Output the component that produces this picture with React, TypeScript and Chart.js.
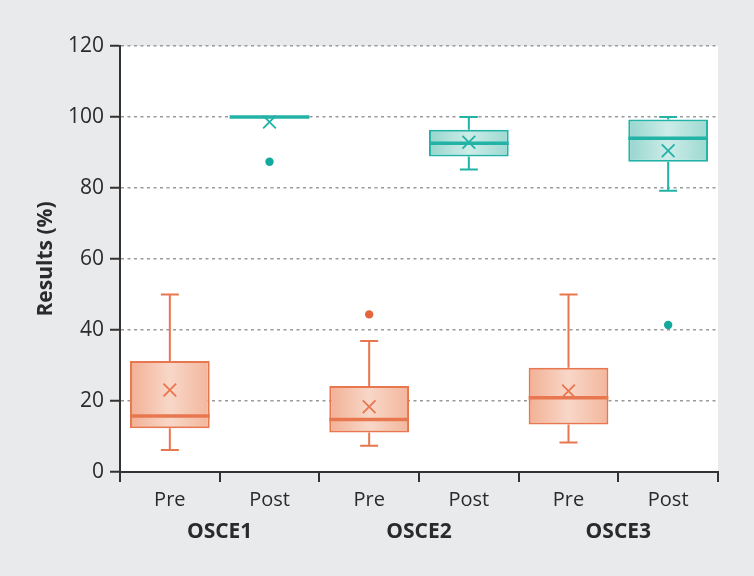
import React, { useEffect, useRef } from "react";
import { Chart, registerables } from "chart.js";

Chart.register(...registerables);

const categories = ["Pre", "Post", "Pre", "Post", "Pre", "Post"];
const groups = ["OSCE1", "OSCE2", "OSCE3"];
const whiskerMin = [6.2, 100, 7.4, 85.2, 8.3, 79.2];
const q1 = [12.3, 100, 11.1, 88.9, 13.4, 87.4];
const median = [15.8, 100, 14.8, 92.6, 20.9, 94.0];
const q3 = [31.3, 100, 24.2, 96.4, 29.4, 99.3];
const whiskerMax = [50, 100, 36.9, 100, 50, 100];
const mean = [23.1, 98.6, 18.4, 92.9, 22.8, 90.5];
const outliers = [null, 87.4, 44.4, null, null, 41.4];
const yTicks = [0, 20, 40, 60, 80, 100, 120];

const ORANGE = "#e8774f";
const TEAL = "#22b2a6";
const FONT = "'Open Sans', 'Noto Sans', sans-serif";
const TEXT = "#2a2a2a";

const isPre = (i: number) => i % 2 === 0;
const strokeFor = (i: number) => (isPre(i) ? ORANGE : TEAL);

const bgPlugin = {
  id: "plotBg",
  beforeDraw(chart: any) {
    const { ctx, chartArea } = chart;
    if (!chartArea) return;
    ctx.save();
    ctx.fillStyle = "#ffffff";
    ctx.fillRect(chartArea.left, chartArea.top, chartArea.right - chartArea.left, chartArea.bottom - chartArea.top);
    ctx.restore();
  },
};

const boxPlugin = {
  id: "boxParts",
  afterDatasetsDraw(chart: any) {
    const { ctx } = chart;
    const x = chart.scales.x;
    const y = chart.scales.y;
    const step = x.getPixelForValue(1) - x.getPixelForValue(0);
    const boxHalf = step * 0.4;
    const capHalf = 9;
    ctx.save();
    for (let i = 0; i < categories.length; i++) {
      const cx = x.getPixelForValue(i);
      ctx.strokeStyle = strokeFor(i);
      ctx.lineWidth = 2;
      ctx.beginPath();
      ctx.moveTo(cx, y.getPixelForValue(q3[i]));
      ctx.lineTo(cx, y.getPixelForValue(whiskerMax[i]));
      ctx.moveTo(cx, y.getPixelForValue(q1[i]));
      ctx.lineTo(cx, y.getPixelForValue(whiskerMin[i]));
      ctx.moveTo(cx - capHalf, y.getPixelForValue(whiskerMax[i]));
      ctx.lineTo(cx + capHalf, y.getPixelForValue(whiskerMax[i]));
      ctx.moveTo(cx - capHalf, y.getPixelForValue(whiskerMin[i]));
      ctx.lineTo(cx + capHalf, y.getPixelForValue(whiskerMin[i]));
      ctx.stroke();
      ctx.lineWidth = 3.5;
      ctx.beginPath();
      ctx.moveTo(cx - boxHalf, y.getPixelForValue(median[i]));
      ctx.lineTo(cx + boxHalf, y.getPixelForValue(median[i]));
      ctx.stroke();
    }
    ctx.restore();
  },
};

function boxFill(c: any) {
  const chart = c.chart;
  const i = c.dataIndex ?? 0;
  const pre = isPre(i);
  const fallback = pre ? "#f5c3ad" : "#b3e2dc";
  if (!chart.chartArea || !chart.scales || !chart.scales.x) return fallback;
  const x = chart.scales.x;
  const step = x.getPixelForValue(1) - x.getPixelForValue(0);
  const cx = x.getPixelForValue(i);
  const half = step * 0.4;
  if (!isFinite(cx) || !isFinite(half) || half <= 0) return fallback;
  const g = chart.ctx.createLinearGradient(cx - half, 0, cx + half, 0);
  if (pre) {
    g.addColorStop(0, "#f2b094");
    g.addColorStop(0.5, "#f8d7c8");
    g.addColorStop(1, "#f3b69c");
  } else {
    g.addColorStop(0, "#96d6ce");
    g.addColorStop(0.5, "#cdece8");
    g.addColorStop(1, "#9cd9d1");
  }
  return g;
}

export default function App() {
  const ref = useRef<HTMLCanvasElement | null>(null);

  useEffect(() => {
    if (!ref.current) return;
    const chart = new Chart(ref.current, {
      type: "bar",
      data: {
        labels: categories,
        datasets: [
          {
            type: "bar",
            data: q1.map((v, i) => [v, q3[i]]) as any,
            backgroundColor: boxFill as any,
            borderColor: categories.map((_, i) => strokeFor(i)),
            borderWidth: 2,
            borderSkipped: false,
            barPercentage: 0.8,
            categoryPercentage: 1.0,
            order: 3,
          },
          {
            type: "line",
            data: mean,
            showLine: false,
            pointStyle: "crossRot",
            pointRadius: 9,
            pointBorderWidth: 1.8,
            pointBorderColor: categories.map((_, i) => strokeFor(i)),
            pointBackgroundColor: "rgba(0,0,0,0)",
            order: 1,
          } as any,
          {
            type: "line",
            data: outliers,
            showLine: false,
            pointStyle: "circle",
            pointRadius: 4.2,
            pointBorderWidth: 0,
            pointBackgroundColor: categories.map((_, i) => (isPre(i) ? "#e3653d" : "#13a99c")),
            pointBorderColor: categories.map((_, i) => (isPre(i) ? "#e3653d" : "#13a99c")),
            order: 2,
          } as any,
        ],
      },
      options: {
        animation: false,
        responsive: false,
        maintainAspectRatio: false,
        layout: { padding: { top: 46, right: 36, left: 0, bottom: 0 } },
        plugins: {
          legend: { display: false },
          tooltip: { enabled: false },
        },
        scales: {
          x: {
            type: "category",
            offset: true,
            grid: {
              display: true,
              offset: true,
              drawOnChartArea: false,
              drawTicks: true,
              tickLength: 10,
              color: "#333333",
              lineWidth: 2,
            },
            border: { display: true, color: "#333333", width: 2 },
            ticks: {
              color: TEXT,
              font: { family: FONT, size: 20 },
              padding: 6,
              maxRotation: 0,
              autoSkip: false,
            },
            afterFit: (s: any) => {
              s.height = 40;
            },
          },
          x2: {
            type: "category",
            labels: groups,
            offset: true,
            position: "bottom",
            grid: { display: false, drawTicks: false },
            border: { display: false },
            ticks: {
              color: TEXT,
              font: { family: FONT, size: 21, weight: "bold" },
              padding: 7,
              maxRotation: 0,
              autoSkip: false,
            },
            afterFit: (s: any) => {
              s.height = 64;
            },
          } as any,
          y: {
            min: 0,
            max: 120,
            afterBuildTicks: (s: any) => {
              s.ticks = yTicks.map((v) => ({ value: v }));
            },
            grid: {
              display: true,
              color: "#9a9a9a",
              lineWidth: 1.5,
              drawTicks: true,
              tickLength: 10,
              tickColor: "#333333",
              tickWidth: 2,
              tickBorderDash: [1, 0],
            } as any,
            border: { display: true, color: "#333333", width: 2, dash: [3, 3.5] } as any,
            ticks: {
              color: TEXT,
              font: { family: FONT, size: 21 },
              padding: 6,
            },
            title: {
              display: true,
              text: "Results (%)",
              color: TEXT,
              font: { family: FONT, size: 21, weight: "bold" },
              padding: { top: 33, bottom: 0 },
            },
            afterFit: (s: any) => {
              s.width = 120;
            },
          },
        },
      },
      plugins: [bgPlugin, boxPlugin],
    });
    return () => chart.destroy();
  }, []);

  return (
    <div
      style={{
        position: "fixed",
        left: 0,
        top: 0,
        width: 754,
        height: 576,
        background: "#e9eaec",
      }}
    >
      <canvas ref={ref} width={754} height={576} style={{ display: "block" }} />
    </div>
  );
}
